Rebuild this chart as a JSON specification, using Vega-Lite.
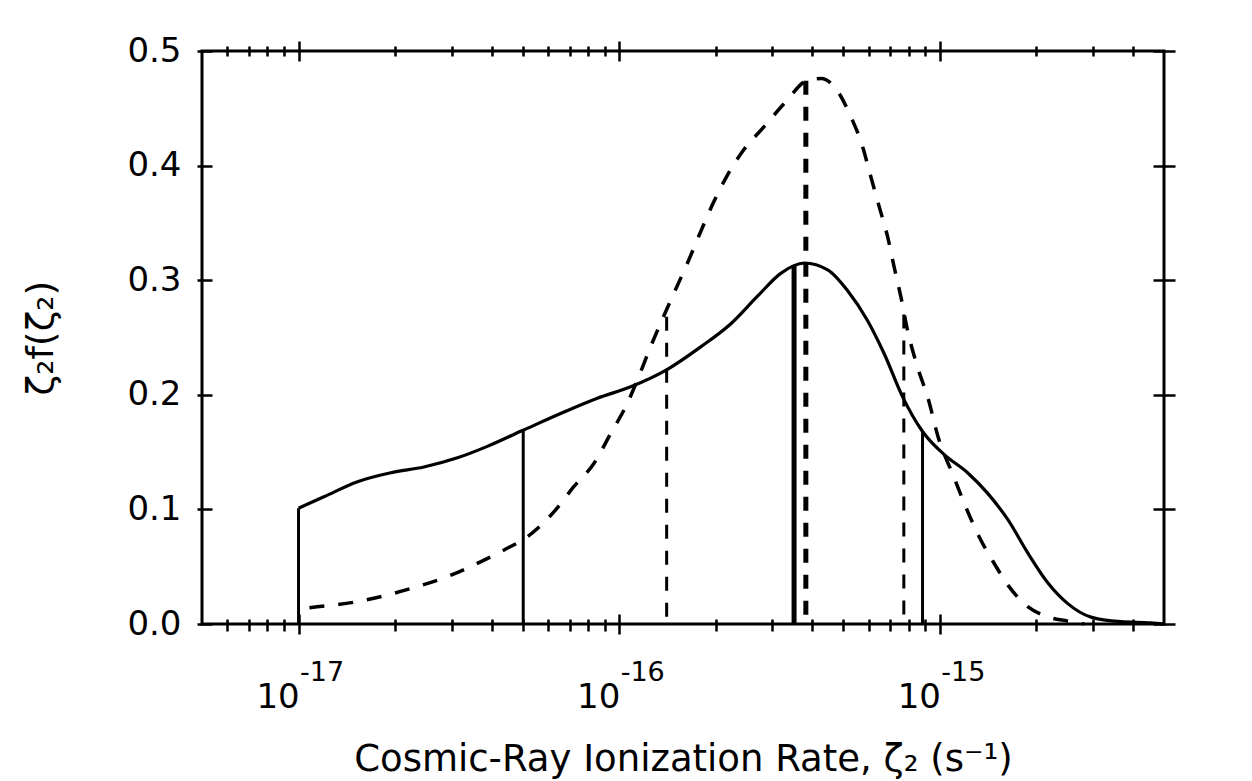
{
  "$schema": "https://vega.github.io/schema/vega-lite/v6.json",
  "width": 962,
  "height": 573,
  "autosize": {"type": "none"},
  "padding": {"left": 202, "top": 51, "right": 88, "bottom": 157},
  "background": "white",
  "config": {
    "view": {"stroke": "black", "strokeWidth": 3, "fill": "white"},
    "axis": {
      "domain": false, "grid": false, "tickColor": "black", "tickWidth": 2.5,
      "labelFont": "DejaVu Sans", "labelColor": "black",
      "titleFont": "DejaVu Sans", "titleColor": "black", "titleFontWeight": "normal",
      "labelOverlap": false, "labelFlush": false, "labelBound": false
    }
  },
  "datasets": {
    "solid": [
      {"rate": 1e-17, "f": 0.101},
      {"rate": 1.2e-17, "f": 0.111},
      {"rate": 1.52e-17, "f": 0.124},
      {"rate": 1.94e-17, "f": 0.132},
      {"rate": 2.46e-17, "f": 0.137},
      {"rate": 3.13e-17, "f": 0.145},
      {"rate": 3.88e-17, "f": 0.155},
      {"rate": 5.01e-17, "f": 0.169},
      {"rate": 6.73e-17, "f": 0.185},
      {"rate": 8.55e-17, "f": 0.197},
      {"rate": 1.086e-16, "f": 0.207},
      {"rate": 1.41e-16, "f": 0.222},
      {"rate": 1.8e-16, "f": 0.242},
      {"rate": 2.23e-16, "f": 0.262},
      {"rate": 2.7e-16, "f": 0.286},
      {"rate": 3.19e-16, "f": 0.306},
      {"rate": 3.78e-16, "f": 0.315},
      {"rate": 4.47e-16, "f": 0.309},
      {"rate": 5.15e-16, "f": 0.291},
      {"rate": 5.94e-16, "f": 0.265},
      {"rate": 6.7e-16, "f": 0.236},
      {"rate": 7.66e-16, "f": 0.198},
      {"rate": 8.83e-16, "f": 0.168},
      {"rate": 1.03e-15, "f": 0.148},
      {"rate": 1.22e-15, "f": 0.132},
      {"rate": 1.41e-15, "f": 0.114},
      {"rate": 1.63e-15, "f": 0.091},
      {"rate": 1.88e-15, "f": 0.062},
      {"rate": 2.17e-15, "f": 0.036},
      {"rate": 2.5e-15, "f": 0.018},
      {"rate": 2.96e-15, "f": 0.006},
      {"rate": 3.67e-15, "f": 0.002},
      {"rate": 4.55e-15, "f": 0.001},
      {"rate": 5e-15, "f": 0.0}
    ],
    "dashed": [
      {"rate": 1e-17, "f": 0.013},
      {"rate": 1.143e-17, "f": 0.015},
      {"rate": 1.524e-17, "f": 0.0195},
      {"rate": 1.892e-17, "f": 0.0253},
      {"rate": 2.344e-17, "f": 0.0326},
      {"rate": 2.911e-17, "f": 0.0413},
      {"rate": 3.524e-17, "f": 0.0515},
      {"rate": 4.375e-17, "f": 0.0646},
      {"rate": 5.176e-17, "f": 0.0762},
      {"rate": 6.266e-17, "f": 0.098},
      {"rate": 7.228e-17, "f": 0.12},
      {"rate": 8.337e-17, "f": 0.14},
      {"rate": 9.397e-17, "f": 0.166},
      {"rate": 1.062e-16, "f": 0.193},
      {"rate": 1.14e-16, "f": 0.213},
      {"rate": 1.253e-16, "f": 0.242},
      {"rate": 1.483e-16, "f": 0.289},
      {"rate": 1.633e-16, "f": 0.315},
      {"rate": 1.774e-16, "f": 0.339},
      {"rate": 1.954e-16, "f": 0.366},
      {"rate": 2.178e-16, "f": 0.392},
      {"rate": 2.449e-16, "f": 0.414},
      {"rate": 2.831e-16, "f": 0.434},
      {"rate": 3.266e-16, "f": 0.454},
      {"rate": 3.908e-16, "f": 0.475},
      {"rate": 4.266e-16, "f": 0.476},
      {"rate": 4.742e-16, "f": 0.467},
      {"rate": 5.272e-16, "f": 0.443},
      {"rate": 5.741e-16, "f": 0.4165},
      {"rate": 6.095e-16, "f": 0.39},
      {"rate": 6.471e-16, "f": 0.364},
      {"rate": 6.871e-16, "f": 0.338},
      {"rate": 7.194e-16, "f": 0.312},
      {"rate": 7.551e-16, "f": 0.286},
      {"rate": 7.925e-16, "f": 0.2565},
      {"rate": 8.511e-16, "f": 0.2245},
      {"rate": 9.162e-16, "f": 0.198},
      {"rate": 9.954e-16, "f": 0.16},
      {"rate": 1.096e-15, "f": 0.131},
      {"rate": 1.205e-15, "f": 0.102},
      {"rate": 1.327e-15, "f": 0.076},
      {"rate": 1.476e-15, "f": 0.053},
      {"rate": 1.644e-15, "f": 0.0326},
      {"rate": 1.879e-15, "f": 0.0151},
      {"rate": 2.089e-15, "f": 0.0079},
      {"rate": 2.5e-15, "f": 0.0025},
      {"rate": 2.818e-15, "f": 0.0}
    ],
    "solidRules": [
      {"rate": 1e-17, "top": 0.101, "weight": "thin"},
      {"rate": 5.02e-17, "top": 0.169, "weight": "thin"},
      {"rate": 3.51e-16, "top": 0.313, "weight": "thick"},
      {"rate": 8.83e-16, "top": 0.168, "weight": "thin"}
    ],
    "dashedRules": [
      {"rate": 1.406e-16, "top": 0.268, "weight": "thin"},
      {"rate": 3.82e-16, "top": 0.474, "weight": "thick"},
      {"rate": 7.72e-16, "top": 0.27, "weight": "thin"}
    ]
  },
  "layer": [
    {
      "data": {"name": "solid"},
      "mark": {"type": "line", "color": "black", "strokeWidth": 3.2, "interpolate": "monotone"},
      "encoding": {
        "x": {
          "field": "rate", "type": "quantitative",
          "scale": {"type": "log", "domain": [5e-18, 5e-15], "nice": false},
          "axis": {
            "orient": "bottom",
            "values": [1e-17, 1e-16, 1e-15],
            "offset": -10,
            "tickSize": 20,
            "labelExpr": "'10'",
            "labelFontSize": 34,
            "labelOffset": -21,
            "labelBaseline": "alphabetic",
            "labelPadding": 73,
            "title": "Cosmic-Ray Ionization Rate, ζ₂ (s⁻¹)",
            "titleFontSize": 37,
            "titlePadding": 27
          }
        },
        "y": {
          "field": "f", "type": "quantitative",
          "scale": {"domain": [0, 0.5], "nice": false},
          "axis": {
            "orient": "left",
            "values": [0, 0.1, 0.2, 0.3, 0.4, 0.5],
            "format": ".1f",
            "offset": -10,
            "tickSize": 15,
            "labelFontSize": 34,
            "labelPadding": 16,
            "title": "ζ₂f(ζ₂)",
            "titleFontSize": 38,
            "titlePadding": 66
          }
        }
      }
    },
    {
      "data": {"name": "dashed"},
      "mark": {"type": "line", "color": "black", "strokeWidth": 3.5, "strokeDash": [15, 14], "strokeDashOffset": 18, "interpolate": "monotone"},
      "encoding": {
        "x": {
          "field": "rate", "type": "quantitative",
          "scale": {"type": "log", "domain": [5e-18, 5e-15], "nice": false},
          "axis": {
            "orient": "top",
            "values": [1e-17, 1e-16, 1e-15],
            "offset": -10,
            "tickSize": 20,
            "labels": false,
            "title": null
          }
        },
        "y": {
          "field": "f", "type": "quantitative",
          "scale": {"domain": [0, 0.5], "nice": false},
          "axis": {
            "orient": "right",
            "values": [0, 0.1, 0.2, 0.3, 0.4, 0.5],
            "offset": -11,
            "tickSize": 22,
            "labels": false,
            "title": null
          }
        }
      }
    },
    {
      "data": {"name": "solidRules"},
      "mark": {"type": "rule", "color": "black"},
      "encoding": {
        "x": {
          "field": "rate", "type": "quantitative",
          "scale": {"type": "log", "domain": [5e-18, 5e-15], "nice": false},
          "axis": {
            "orient": "bottom",
            "values": [6e-18, 7e-18, 8e-18, 9e-18, 1e-17, 2e-17, 3e-17, 4e-17, 5e-17, 6e-17, 7e-17, 8e-17, 9e-17, 1e-16, 2e-16, 3e-16, 4e-16, 5e-16, 6e-16, 7e-16, 8e-16, 9e-16, 1e-15, 2e-15, 3e-15, 4e-15],
            "offset": -5,
            "tickSize": {"condition": {"test": "abs(log(datum.value)/LN10 - round(log(datum.value)/LN10)) < 0.001", "value": 0}, "value": 12},
            "tickOpacity": {"condition": {"test": "abs(log(datum.value)/LN10 - round(log(datum.value)/LN10)) < 0.001", "value": 0}, "value": 1},
            "labelExpr": "abs(log(datum.value)/LN10 - round(log(datum.value)/LN10)) < 0.001 ? '-' + format(-round(log(datum.value)/LN10), 'd') : ''",
            "labelFontSize": 27,
            "labelOffset": 23,
            "labelBaseline": "alphabetic",
            "labelPadding": 61,
            "title": null
          }
        },
        "y": {"field": "top", "type": "quantitative", "scale": {"domain": [0, 0.5], "nice": false}, "axis": null},
        "y2": {"datum": 0},
        "strokeWidth": {"field": "weight", "type": "nominal", "scale": {"domain": ["thin", "thick"], "range": [3, 5]}, "legend": null}
      }
    },
    {
      "data": {"name": "dashedRules"},
      "mark": {"type": "rule", "color": "black", "strokeDash": [14, 12]},
      "encoding": {
        "x": {
          "field": "rate", "type": "quantitative",
          "scale": {"type": "log", "domain": [5e-18, 5e-15], "nice": false},
          "axis": {
            "orient": "top",
            "values": [6e-18, 7e-18, 8e-18, 9e-18, 2e-17, 3e-17, 4e-17, 5e-17, 6e-17, 7e-17, 8e-17, 9e-17, 2e-16, 3e-16, 4e-16, 5e-16, 6e-16, 7e-16, 8e-16, 9e-16, 2e-15, 3e-15, 4e-15],
            "offset": -5,
            "tickSize": 10,
            "labels": false,
            "title": null
          }
        },
        "y": {"field": "top", "type": "quantitative", "scale": {"domain": [0, 0.5], "nice": false}, "axis": null},
        "y2": {"datum": 0},
        "strokeWidth": {"field": "weight", "type": "nominal", "scale": {"domain": ["thin", "thick"], "range": [3, 5]}, "legend": null}
      }
    }
  ],
  "resolve": {"axis": {"x": "independent", "y": "independent"}}
}
